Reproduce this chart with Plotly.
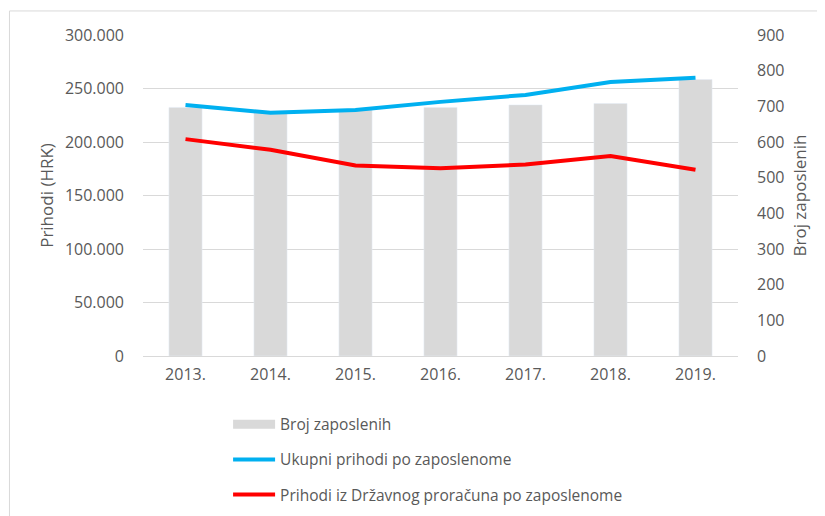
import plotly.graph_objects as go

years = ["2013.", "2014.", "2015.", "2016.", "2017.", "2018.", "2019."]
broj_zaposlenih = [697, 683, 690, 697, 704, 708, 775]
ukupni_prihodi = [234600, 227300, 230000, 237500, 244000, 256000, 260000]
prihodi_proracun = [202700, 192700, 178000, 175500, 179000, 187000, 174000]

GREY_TEXT = "#595959"
GRID = "#D9D9D9"
FONT = "Open Sans"

fig = go.Figure()

# bars sit on the primary axis (drawn on the right) so the lines overlay them
fig.add_trace(go.Bar(
    x=years, y=broj_zaposlenih, name="Broj zaposlenih",
    marker_color="#D9D9D9", width=0.39, yaxis="y",
    showlegend=False,
))
# legend-only entry so the bar key is a wide grey block like in Excel
fig.add_trace(go.Scatter(
    x=[None], y=[None], name="Broj zaposlenih",
    mode="lines", line=dict(color="#D9D9D9", width=9),
    legendgroup="a",
))
fig.add_trace(go.Scatter(
    x=years, y=ukupni_prihodi, name="Ukupni prihodi po zaposlenome",
    mode="lines", line=dict(color="#00B0F0", width=4), yaxis="y2",
    legendgroup="b",
))
fig.add_trace(go.Scatter(
    x=years, y=prihodi_proracun, name="Prihodi iz Državnog proračuna po zaposlenome",
    mode="lines", line=dict(color="#FF0000", width=4), yaxis="y2",
    legendgroup="c",
))

# margins allow for the 8px default body margin of the html page
fig.update_layout(
    width=825,
    height=516,
    margin=dict(l=135, r=95, t=27, b=168, autoexpand=False),
    paper_bgcolor="white",
    plot_bgcolor="white",
    font=dict(family=FONT, size=16, color=GREY_TEXT),
    separators=",.",
    xaxis=dict(
        showline=True, linecolor=GRID, linewidth=1,
        showgrid=False, ticks="", ticklabelstandoff=4,
        tickfont=dict(size=16, color=GREY_TEXT),
    ),
    yaxis=dict(
        side="right", range=[0, 900], dtick=100,
        showgrid=False, zeroline=False,
        ticklabelstandoff=18,
        title=dict(text="Broj zaposlenih", font=dict(size=17, color=GREY_TEXT), standoff=10),
        tickfont=dict(size=16, color=GREY_TEXT),
    ),
    yaxis2=dict(
        side="left", overlaying="y", range=[0, 300000], dtick=50000,
        tickformat=",.0f",
        showgrid=True, gridcolor=GRID, gridwidth=1, zeroline=False,
        ticklabelstandoff=18,
        title=dict(text="Prihodi (HRK)", font=dict(size=17, color=GREY_TEXT), standoff=6),
        tickfont=dict(size=16, color=GREY_TEXT),
    ),
    legend=dict(
        orientation="v", x=0.143, xanchor="left", y=-0.161, yanchor="top",
        traceorder="grouped", tracegroupgap=12, itemwidth=42,
        font=dict(size=15.5, color=GREY_TEXT),
        bgcolor="rgba(0,0,0,0)",
    ),
    showlegend=True,
    shapes=[
        dict(type="line", xref="paper", yref="paper",
             x0=-0.2244, x1=1.2, y0=1.0749, y1=1.0749,
             line=dict(color=GRID, width=1)),
        dict(type="line", xref="paper", yref="paper",
             x0=-0.2244, x1=-0.2244, y0=1.0749, y1=-0.6,
             line=dict(color=GRID, width=1)),
    ],
)

fig.write_html("out.html")
